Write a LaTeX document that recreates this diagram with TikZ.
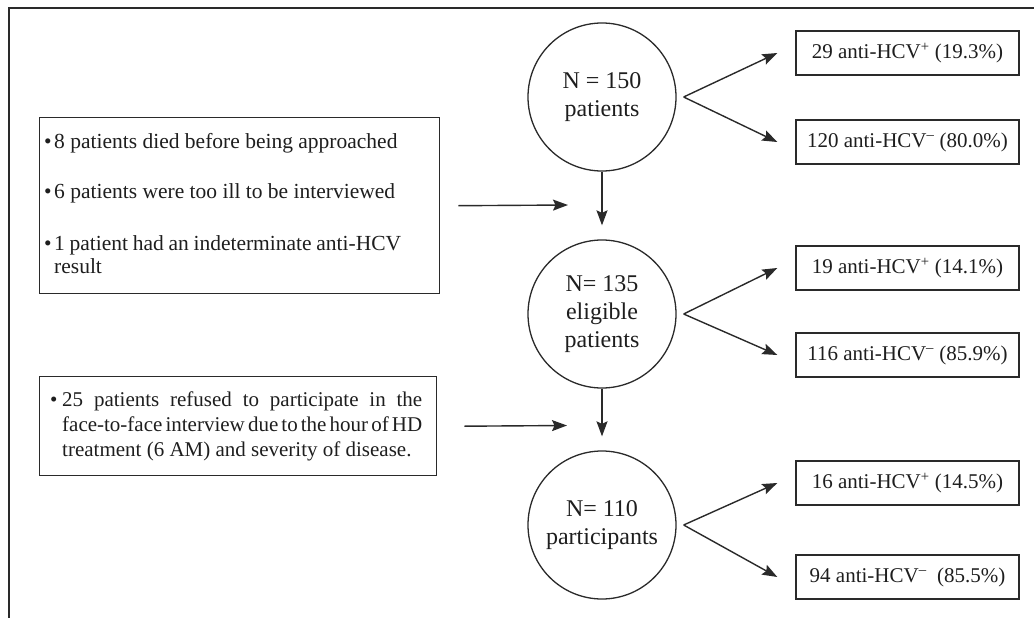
\documentclass[tikz,border=0pt]{standalone}
\usepackage{fontspec}
\setmainfont{Liberation Serif}
\usetikzlibrary{arrows.meta,calc}
\definecolor{ink}{HTML}{1E1E1E}
\definecolor{lin}{HTML}{2A2A2A}
% bullet item: bullet box of width #1, justified text block of width #2
\newcommand{\bulitem}[3]{\noindent\makebox[#1][l]{\textbullet}\parbox[t]{#2}{\tolerance=10000\spaceskip=0.25em plus 0.4em minus 0.14em #3}}
\begin{document}
\begin{tikzpicture}[x=1pt,y=-1pt, color=lin,
  every node/.style={text=ink},
  circ/.style={circle, draw=lin, line width=1.3pt, minimum size=148pt, inner sep=0pt, align=center, font=\fontsize{24}{28}\selectfont},
  rbox/.style={rectangle, draw=lin, line width=1.4pt, minimum width=223pt, minimum height=44pt, inner sep=0pt, font=\fontsize{21}{24}\selectfont},
  lbox/.style={rectangle, draw=lin, line width=1.4pt, inner sep=0pt, anchor=north west},
  arr/.style={-{Stealth[length=15pt,width=11pt,inset=2.5pt]}, line width=1.4pt, draw=lin},
  ptext/.style={inner sep=0pt, anchor=base west, align=left}]
\useasboundingbox (0,0) rectangle (1034,618);
% partial frame
\draw[line width=1.6pt, lin] (9,618) -- (9,8) -- (1040,8);

% circles
\node[circ] (c1) at (602,97) {N = 150\\patients};
\node[circ] (c2) at (602,314) {N= 135\\eligible\\patients};
\node[circ] (c3) at (602,525) {N= 110\\participants};

% right boxes
\node[rbox] (r1) at (907.5,53) {29 anti-HCV\textsuperscript{+} (19.3\%)};
\node[rbox] (r2) at (907.5,142) {120 anti-HCV\textsuperscript{\textendash} (80.0\%)};
\node[rbox] (r3) at (907.5,268) {19 anti-HCV\textsuperscript{+} (14.1\%)};
\node[rbox] (r4) at (907.5,355) {116 anti-HCV\textsuperscript{\textendash} (85.9\%)};
\node[rbox] (r5) at (907.5,483) {16 anti-HCV\textsuperscript{+} (14.5\%)};
\node[rbox] (r6) at (907.5,577) {94 anti-HCV\textsuperscript{\textendash}\ \ (85.5\%)};

% left boxes
\node[lbox, minimum width=400pt, minimum height=176pt] (A) at (39,117) {};
\node[ptext, text width=360pt, font=\fontsize{21.5}{23}\selectfont] (At) at (44,148)
  {\setlength{\parskip}{28pt}%
   \bulitem{10pt}{347pt}{8 patients died before being approached}\par
   \bulitem{10pt}{347pt}{6 patients were too ill to be interviewed}\par
   \bulitem{10pt}{347pt}{1 patient had an indeterminate anti-HCV\linebreak result}};

\node[lbox, minimum width=397pt, minimum height=99pt] (B) at (39,376) {};
\node[ptext, text width=374pt, font=\fontsize{21}{25}\selectfont] (Bt) at (50,406)
  {\bulitem{12pt}{360pt}{25 patients refused to participate in the\linebreak face-to-face interview due to the hour of HD\linebreak treatment (6 AM) and severity of disease.}};

% fork arrows
\coordinate (v1) at ($(c1.east)+(7,0)$);
\coordinate (v2) at ($(c2.east)+(7,0)$);
\coordinate (v3) at ($(c3.east)+(7,0)$);
\draw[arr] (v1) -- ([xshift=-18pt]r1.west);
\draw[arr] (v1) -- ([xshift=-18pt]r2.west);
\draw[arr] (v2) -- ([xshift=-18pt]r3.west);
\draw[arr] (v2) -- ([xshift=-18pt]r4.west);
\draw[arr] (v3) -- ([xshift=-18pt]r5.west);
\draw[arr] (v3) -- ([xshift=-18pt]r6.west);

% vertical arrows
\draw[arr] (c1.south) -- ([yshift=14pt]c2.north);
\draw[arr] (c2.south) -- ([yshift=14pt]c3.north);

% horizontal arrows
\coordinate (ea) at (568,205);
\coordinate (eb) at (567,425.5);
\draw[arr] ([xshift=18pt]A.east) -- (ea);
\draw[arr] ([xshift=27pt]B.east) -- (eb);
\end{tikzpicture}
\end{document}
